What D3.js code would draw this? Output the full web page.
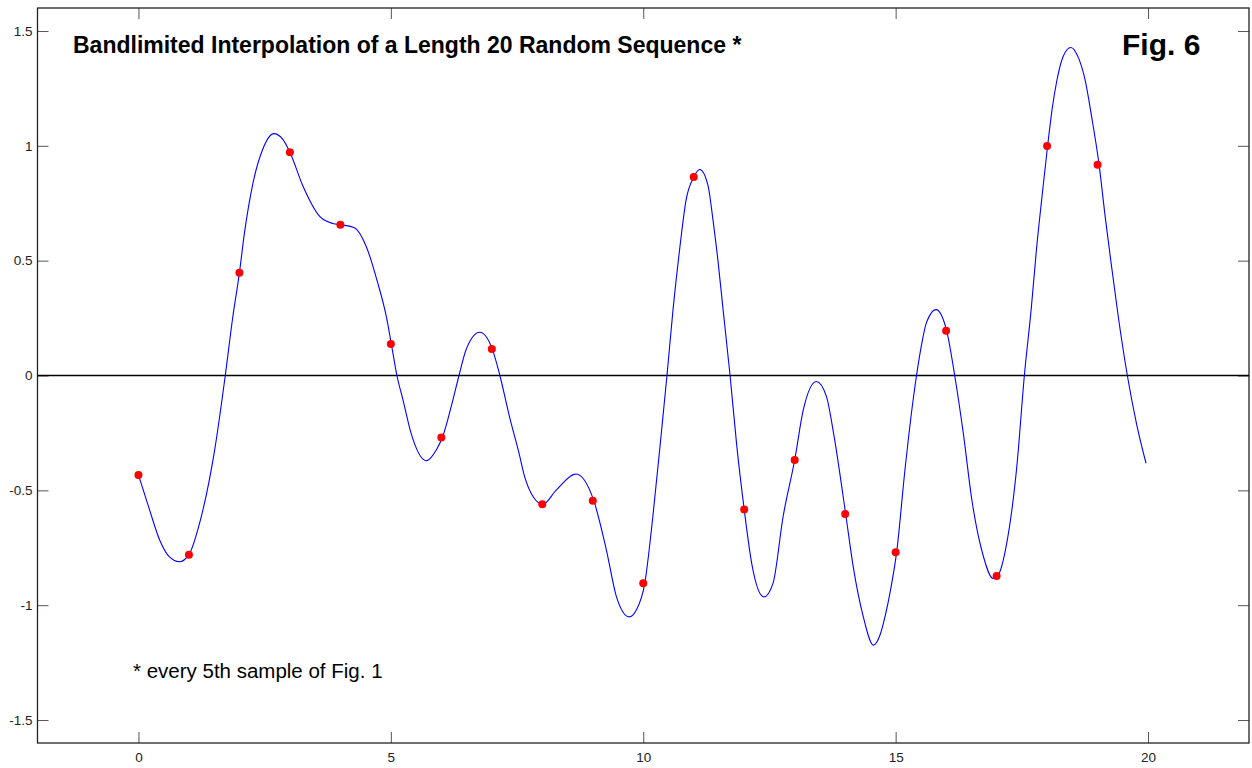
<!DOCTYPE html>
<html>
<head>
<meta charset="utf-8">
<script src="https://cdn.jsdelivr.net/npm/d3@7"></script>
<style>
  body { margin: 0; background: #fff; }
  svg text { font-family: "Liberation Sans", Arial, sans-serif; }
</style>
</head>
<body>
<svg id="chart" width="1252" height="768"></svg>
<script>
// samples (red dots)
var sampleX = [0, 1, 2, 3, 4, 5, 6, 7, 8, 9, 10, 11, 12, 13, 14, 15, 16, 17, 18, 19];
var sampleY = [-0.433, -0.78, 0.447, 0.972, 0.656, 0.137, -0.27, 0.115, -0.561, -0.545,
               -0.905, 0.864, -0.583, -0.368, -0.603, -0.769, 0.195, -0.873, 0.999, 0.918];

// interpolated curve
var curveX = [0, 0.22, 0.42, 0.61, 0.81, 1.0, 1.21, 1.51, 1.72, 1.87, 2.0, 2.1, 2.27, 2.46, 2.68, 2.86,
              3.0, 3.26, 3.59, 3.85, 4.02, 4.28, 4.51, 4.74, 4.91, 5.01, 5.12, 5.24, 5.4, 5.7, 5.9,
              6.02, 6.23, 6.35, 6.49, 6.76, 7.01, 7.16, 7.35, 7.54, 7.65, 7.82, 8.01, 8.28, 8.67,
              9.02, 9.27, 9.47, 9.72, 9.86, 10.03, 10.19, 10.39, 10.47, 10.59, 10.72, 10.85, 11.0,
              11.12, 11.28, 11.38, 11.48, 11.58, 11.72, 11.85, 12.0, 12.15, 12.39, 12.57, 12.77, 13.0,
              13.17, 13.43, 13.63, 13.77, 14.01, 14.16, 14.36, 14.56, 14.69, 14.8, 14.91, 15.02, 15.18,
              15.35, 15.51, 15.61, 15.8, 16.01, 16.17, 16.34, 16.51, 16.74, 16.93, 17.02, 17.2, 17.4,
              17.55, 17.69, 17.79, 17.9, 18.01, 18.1, 18.19, 18.32, 18.47, 18.62, 18.75, 18.88,
              19.03, 19.15, 19.26, 19.41, 19.59, 19.77, 19.96];
var curveY = [-0.433, -0.585, -0.716, -0.789, -0.811, -0.78, -0.644, -0.324, 0, 0.257, 0.447, 0.621,
              0.839, 0.984, 1.053, 1.028, 0.972, 0.824, 0.693, 0.662, 0.656, 0.643, 0.563, 0.403,
              0.257, 0.137, 0, -0.106, -0.251, -0.371, -0.324, -0.27, -0.106, 0, 0.112, 0.188,
              0.115, 0, -0.179, -0.339, -0.44, -0.528, -0.561, -0.498, -0.429, -0.545, -0.76,
              -0.964, -1.051, -1.022, -0.905, -0.615, -0.179, 0, 0.287, 0.548, 0.766, 0.864,
              0.897, 0.83, 0.68, 0.5, 0.29, 0, -0.3, -0.583, -0.82, -0.964, -0.905, -0.615,
              -0.368, -0.15, -0.026, -0.092, -0.251, -0.603, -0.833, -1.051, -1.174, -1.13,
              -1.04, -0.92, -0.769, -0.42, -0.1, 0.13, 0.23, 0.287, 0.195, 0, -0.251, -0.542,
              -0.789, -0.884, -0.873, -0.731, -0.397, 0, 0.3, 0.55, 0.78, 0.999, 1.16, 1.28,
              1.39, 1.428, 1.384, 1.29, 1.13, 0.918, 0.693, 0.504, 0.257, 0, -0.208, -0.382];

var xTicks = [0, 5, 10, 15, 20];
var yTicks = [-1.5, -1, -0.5, 0, 0.5, 1, 1.5];

var titleText = "Bandlimited Interpolation of a Length 20 Random Sequence *";
var figText = "Fig. 6";
var noteText = "* every 5th sample of Fig. 1";

var svg = d3.select("#chart");
var plotLeft = 37.5, plotRight = 1249, plotTop = 8, plotBottom = 743;

var x = d3.scaleLinear().domain([-2, 22]).range([plotLeft, plotRight]);
var y = d3.scaleLinear().domain([-1.6, 1.6]).range([plotBottom, plotTop]);

// axes, ticks pointing inward like matlab
function styleAxis(g) {
  g.select(".domain").remove();
  g.selectAll(".tick line").attr("stroke", "#555");
  g.selectAll(".tick text").attr("fill", "#222").style("font-size", "13.5px");
}

svg.append("g")
  .attr("transform", "translate(0," + plotBottom + ")")
  .call(d3.axisBottom(x).tickValues(xTicks).tickSize(-11).tickPadding(9).tickFormat(d3.format("d")))
  .call(styleAxis);

svg.append("g")
  .attr("transform", "translate(0," + plotTop + ")")
  .call(d3.axisTop(x).tickValues(xTicks).tickSize(-11).tickFormat(""))
  .call(styleAxis);

svg.append("g")
  .attr("transform", "translate(" + plotLeft + ",0)")
  .call(d3.axisLeft(y).tickValues(yTicks).tickSize(-11).tickPadding(5).tickFormat(function(d) { return String(d); }))
  .call(styleAxis);

svg.append("g")
  .attr("transform", "translate(" + plotRight + ",0)")
  .call(d3.axisRight(y).tickValues(yTicks).tickSize(-11).tickFormat(""))
  .call(styleAxis);

// frame
svg.append("rect")
  .attr("x", plotLeft).attr("y", plotTop)
  .attr("width", plotRight - plotLeft).attr("height", plotBottom - plotTop)
  .attr("fill", "none").attr("stroke", "#222").attr("stroke-width", 1.3);

// zero line
svg.append("line")
  .attr("x1", plotLeft).attr("x2", plotRight)
  .attr("y1", y(0)).attr("y2", y(0))
  .attr("stroke", "#000").attr("stroke-width", 1.3);

// curve
var line = d3.line()
  .x(function(d, i) { return x(curveX[i]); })
  .y(function(d) { return y(d); })
  .curve(d3.curveMonotoneX);

svg.append("path")
  .datum(curveY)
  .attr("d", line)
  .attr("fill", "none")
  .attr("stroke", "#0000ff")
  .attr("stroke-width", 1.1);

// samples
svg.append("g")
  .selectAll("circle")
  .data(sampleY)
  .enter().append("circle")
  .attr("cx", function(d, i) { return x(sampleX[i]); })
  .attr("cy", function(d) { return y(d); })
  .attr("r", 4)
  .attr("fill", "#ff0000");

// texts
svg.append("text")
  .attr("x", 73).attr("y", 53)
  .style("font-size", "23px").style("font-weight", "bold")
  .text(titleText);

svg.append("text")
  .attr("x", 1122).attr("y", 55)
  .style("font-size", "30px").style("font-weight", "bold")
  .text(figText);

svg.append("text")
  .attr("x", 133).attr("y", 678)
  .style("font-size", "20.5px")
  .text(noteText);
</script>
</body>
</html>
